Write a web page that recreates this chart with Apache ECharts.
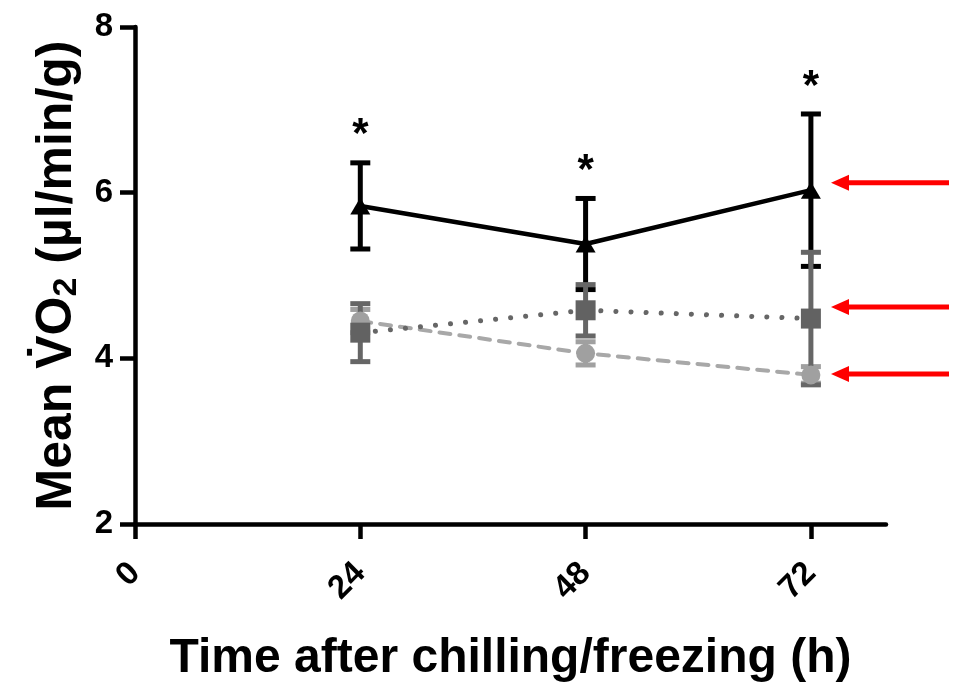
<!DOCTYPE html>
<html>
<head>
<meta charset="utf-8">
<script src="https://cdn.jsdelivr.net/npm/echarts@6/dist/echarts.min.js"></script>
<style>
  html, body { margin: 0; padding: 0; background: #fff; }
  #chart { width: 954px; height: 688px; }
</style>
</head>
<body>
<div id="chart"></div>
<script>
// time points (h)
const times = [24, 48, 72]
const xTicks = [0, 24, 48, 72]

// black triangles, solid line
const triMean = [5.84, 5.38, 6.03]
const triErr = [0.52, 0.55, 0.92]
const triSig = [true, true, true]

// dark grey squares, dotted line
const sqMean = [4.31, 4.58, 4.48]
const sqErr = [0.35, 0.31, 0.8]

// light grey circles, dashed line
const ciMean = [4.45, 4.06, 3.8]
const ciErr = [0.14, 0.14, 0.1]

// red arrows on the right (y values they point at)
const arrowY = [6.12, 4.62, 3.81]

const FONT = 'Liberation Sans, Arial, sans-serif'

function pairs(mean) {
  return times.map((t, i) => [t, mean[i]])
}

function errData(mean, err, sig) {
  return times.map((t, i) => [t, mean[i] - err[i], mean[i] + err[i], sig ? (sig[i] ? 1 : 0) : 0])
}

function errSeries(mean, err, color, sig) {
  return {
    type: 'custom',
    data: errData(mean, err, sig),
    silent: true,
    renderItem(params, api) {
      const lo = api.coord([api.value(0), api.value(1)])
      const hi = api.coord([api.value(0), api.value(2)])
      const w = 10
      const style = { stroke: color, lineWidth: 5 }
      const children = [
        { type: 'line', shape: { x1: lo[0], y1: lo[1], x2: hi[0], y2: hi[1] }, style },
        { type: 'line', shape: { x1: lo[0] - w, y1: lo[1], x2: lo[0] + w, y2: lo[1] }, style },
        { type: 'line', shape: { x1: hi[0] - w, y1: hi[1], x2: hi[0] + w, y2: hi[1] }, style }
      ]
      if (api.value(3)) {
        children.push({
          type: 'text',
          style: {
            text: '*', x: hi[0], y: hi[1] - 6, align: 'center', verticalAlign: 'bottom',
            fill: '#000', font: 'bold 42px ' + FONT
          }
        })
      }
      return { type: 'group', children }
    }
  }
}

const chart = echarts.init(document.getElementById('chart'))

chart.setOption({
  animation: false,
  grid: { left: 135, right: 68, top: 27, bottom: 161 },
  xAxis: {
    type: 'value',
    min: 0,
    max: 80,
    name: 'Time after chilling/freezing (h)',
    nameLocation: 'middle',
    nameGap: 111,
    nameTextStyle: { fontFamily: FONT, fontSize: 48, fontWeight: 'bold', color: '#000' },
    splitLine: { show: false },
    axisLine: { lineStyle: { color: '#000', width: 4.5 } },
    axisTick: { customValues: xTicks, length: 15, lineStyle: { color: '#000', width: 4.5 } },
    axisLabel: {
      customValues: xTicks,
      rotate: 45,
      margin: 44,
      fontFamily: FONT,
      fontSize: 33,
      fontWeight: 'bold',
      color: '#000'
    }
  },
  yAxis: {
    type: 'value',
    min: 2,
    max: 8,
    interval: 2,
    name: '{a|Mean V\u0307O}{s|2}{a| (\u00b5l/min/g)}',
    nameLocation: 'middle',
    nameGap: 40,
    nameTextStyle: {
      rich: {
        a: { fontFamily: FONT, fontSize: 50, fontWeight: 'bold', color: '#000' },
        s: { fontFamily: FONT, fontSize: 34, fontWeight: 'bold', color: '#000', padding: [20, 0, 0, 0] }
      }
    },
    splitLine: { show: false },
    axisLine: { show: true, lineStyle: { color: '#000', width: 4.5 } },
    axisTick: { length: 15, lineStyle: { color: '#000', width: 4.5 } },
    axisLabel: { margin: 22, fontFamily: FONT, fontSize: 33, fontWeight: 'bold', color: '#000' }
  },
  series: [
    errSeries(ciMean, ciErr, '#a0a0a0'),
    {
      type: 'line',
      data: pairs(ciMean),
      symbol: 'circle',
      symbolSize: 19,
      itemStyle: { color: '#a0a0a0' },
      lineStyle: { color: '#a8a8a8', width: 4, type: [11, 9], cap: 'round' }
    },
    errSeries(triMean, triErr, '#000', triSig),
    {
      type: 'line',
      data: pairs(triMean),
      symbol: 'triangle',
      symbolSize: [20, 17],
      itemStyle: { color: '#000' },
      lineStyle: { color: '#000', width: 4.5 }
    },
    errSeries(sqMean, sqErr, '#666'),
    {
      type: 'line',
      data: pairs(sqMean),
      symbol: 'rect',
      symbolSize: 20,
      itemStyle: { color: '#626262' },
      lineStyle: { color: '#666', width: 5, type: [0.1, 15], cap: 'round' }
    }
  ]
})

// red arrows pointing at the 72 h values
const arrows = arrowY.map(v => {
  const y = chart.convertToPixel({ gridIndex: 0 }, [80, v])[1]
  return {
    type: 'group',
    children: [
      { type: 'line', shape: { x1: 846, y1: y, x2: 949, y2: y }, style: { stroke: '#ff0000', lineWidth: 5 } },
      { type: 'polygon', shape: { points: [[831, y], [849, y - 8], [849, y + 8]] }, style: { fill: '#ff0000' } }
    ]
  }
})
chart.setOption({ graphic: arrows })
</script>
</body>
</html>
